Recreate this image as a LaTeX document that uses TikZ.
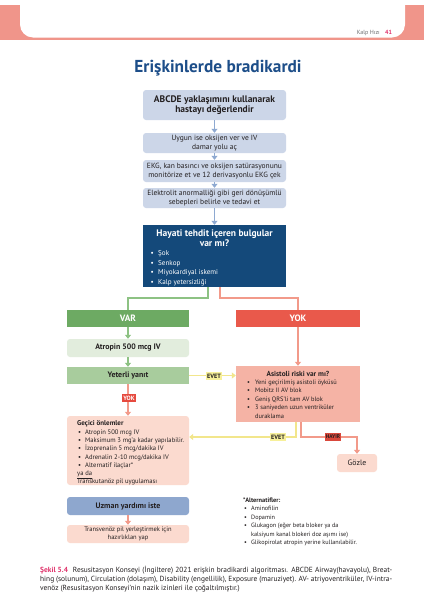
\documentclass[tikz,border=0pt]{standalone}
\usepackage{fontspec}
\setmainfont{PT Sans}
\usetikzlibrary{arrows.meta}
\definecolor{hdr}{HTML}{F0958A}
\definecolor{ttl}{HTML}{1D4E89}
\definecolor{txt}{HTML}{231F20}
\definecolor{lblue}{HTML}{CCD6E8}
\definecolor{ablue}{HTML}{8EA9D1}
\definecolor{dblue}{HTML}{14497A}
\definecolor{gvar}{HTML}{6DAA63}
\definecolor{glight}{HTML}{E2EDDD}
\definecolor{gmid}{HTML}{A8CC9D}
\definecolor{gline}{HTML}{8DC283}
\definecolor{ryok}{HTML}{E9594B}
\definecolor{sline}{HTML}{F29A8A}
\definecolor{sasis}{HTML}{F5B3A5}
\definecolor{spale}{HTML}{FBDACF}
\definecolor{ubox}{HTML}{8EA7CE}
\definecolor{yline}{HTML}{F2E68C}
\definecolor{ylbl}{HTML}{F7F09A}
\definecolor{rlbl}{HTML}{E64A3F}
\definecolor{hlbl}{HTML}{D9483B}
\definecolor{capred}{HTML}{E0336B}
\definecolor{hgray}{HTML}{6D6E70}
\newcommand{\myfs}[2]{\fontsize{#1}{#2}\selectfont}
\tikzset{
  box/.style={draw=none, inner sep=0pt, align=center, text=txt},
  lbbox/.style={box, fill=lblue, rounded corners=3pt, minimum width=143pt},
  lcol/.style={box, minimum width=122pt},
  rcol/.style={box, minimum width=124pt},
  tip/.style={-{Triangle[width=6pt,length=4pt]}},
  barr/.style={tip, draw=ablue, line width=1.8pt},
  garr/.style={tip, draw=gline, line width=1.8pt},
  sarr/.style={tip, draw=sline, line width=1.8pt},
  gln/.style={draw=gline, line width=1.2pt},
  sln/.style={draw=sline, line width=1.2pt},
  sarrthin/.style={tip, draw=sline, line width=1.3pt},
  yarr/.style={tip, draw=yline, line width=1.3pt},
  tline/.style={anchor=base west, inner sep=0pt, text=txt},
  lbl/.style={inner sep=1pt, font=\bfseries\myfs{6.2}{7}, minimum height=7.5pt},
}
\begin{document}
\begin{tikzpicture}[x=1pt,y=-1pt]
\useasboundingbox (0,0) rectangle (424,600);
\fill[white] (0,0) rectangle (424,600);
% header
\fill[hdr] (0,5) rectangle (424,40);
\fill[white, rounded corners=13pt] (20,-20) rectangle (405,37.5);
\node[anchor=base east, inner sep=0pt, text=hgray, font=\myfs{6}{7}] (hk) at (380,34) {Kalp Hızı};
\node[anchor=base west, inner sep=0pt, text=capred, font=\bfseries\myfs{6}{7}] (hn) at (385,34) {41};
% title
\node[anchor=base, inner sep=0pt, text=ttl, font=\bfseries\myfs{17.3}{19}] (title) at (218,72.5) {Erişkinlerde bradikardi};
% top boxes
\node[lbbox, minimum height=30pt, font=\bfseries\myfs{9.5}{10.2}] (b1) at (214.5,105) {ABCDE yaklaşımını kullanarak\\hastayı değerlendir};
\node[lbbox, minimum height=20pt, font=\myfs{7.5}{9}] (b2) at (214.5,143) {Uygun ise oksijen ver ve IV\\damar yolu aç};
\node[lbbox, minimum height=22pt, font=\myfs{7.5}{9}] (b3) at (214.5,171) {EKG, kan basıncı ve oksijen satürasyonunu\\monitörize et ve 12 derivasyonlu EKG çek};
\node[lbbox, minimum height=20pt, font=\myfs{7.5}{9}] (b4) at (214.5,198) {Elektrolit anormalliği gibi geri dönüşümlü\\sebepleri belirle ve tedavi et};
\node[box, fill=dblue, minimum width=143pt, minimum height=62pt] (dk) at (214.5,256) {};
\draw[barr] (b1) -- (b2);
\draw[barr] (b2) -- (b3);
\draw[barr] (b3) -- (b4);
\draw[barr] (b4) -- (dk);
\node[anchor=base, inner sep=0pt, text=white, font=\bfseries\myfs{9.5}{10}] (dkt1) at (214.5,236.5) {Hayati tehdit içeren bulgular};
\node[anchor=base, inner sep=0pt, text=white, font=\bfseries\myfs{9.5}{10}] (dkt2) at (214.5,246.5) {var mı?};
\foreach \t [count=\i] in {Şok, Senkop, Miyokardiyal iskemi, Kalp yetersizliği} {
  \node[tline, text=white, font=\myfs{7.1}{8}] (dkb\i) at (150.5,{255.5+9.5*(\i-1)}) {•};
  \node[tline, text=white, font=\myfs{7.1}{8}] (dki\i) at (158,{255.5+9.5*(\i-1)}) {\t};
}
% VAR / YOK
\node[lcol, fill=gvar, minimum height=17pt, text=white, font=\bfseries\myfs{9.2}{10}] (var) at (128,318.5) {VAR};
\node[rcol, fill=ryok, minimum height=17pt, text=white, font=\bfseries\myfs{9.2}{10}] (yok) at (298,318.5) {YOK};
\coordinate (d1) at (208,298);
\coordinate (d2) at (220,298);
\draw[gln] (dk.south -| d1) -- (d1) -| (var.north);
\draw[sln] (dk.south -| d2) -- (d2) -| (yok.north);
% left column
\node[lcol, fill=glight, rounded corners=3pt, minimum height=18pt, font=\bfseries\myfs{7.9}{9}] (atr) at (128,348) {Atropin 500 mcg IV};
\node[lcol, fill=gmid, minimum height=17pt, font=\bfseries\myfs{7.9}{9}] (yet) at (128,375.5) {Yeterli yanıt};
\draw[garr] (var) -- (atr);
\draw[garr] (atr) -- (yet);
% Asistoli
\node[rcol, fill=sasis, minimum height=56pt] (as) at (298,394) {};
\draw[sarr] (yok) -- (as);
\node[anchor=base, inner sep=0pt, text=txt, font=\bfseries\myfs{7.3}{8}] (ast) at (298,376.5) {Asistoli riski var mı?};
\foreach \t [count=\i] in {Yeni geçirilmiş asistoli öyküsü, Mobitz II AV blok, Geniş QRS'li tam AV blok, 3 saniyeden uzun ventriküler} {
  \node[tline, font=\myfs{6.4}{8}] (asb\i) at (247,{384.5+8.4*(\i-1)}) {•};
  \node[tline, font=\myfs{6.4}{8}] (asi\i) at (255,{384.5+8.4*(\i-1)}) {\t};
}
\node[tline, font=\myfs{6.4}{8}] (asi5) at (255,418.2) {duraklama};
% EVET 1
\draw[yarr] (yet.east) -- (yet.east -| as.west);
\node[lbl, fill=ylbl, text=txt] (ev1) at (214,376) {EVET};
% Gecici
\node[lcol, fill=spale, rounded corners=3pt, minimum height=69pt] (gec) at (128,450.5) {};
\draw[sarrthin] (yet) -- (gec);
\node[lbl, fill=rlbl, text=white] (yk1) at (129,398) {YOK};
\node[tline, font=\bfseries\myfs{7}{8}] (gect) at (77,425.5) {Geçici önlemler};
\foreach \t [count=\i] in {Atropin 500 mcg IV, Maksimum 3 mg'a kadar yapılabilir., İzoprenalin 5 mcg/dakika IV, Adrenalin 2-10 mcg/dakika IV, Alternatif ilaçlar*} {
  \node[tline, font=\myfs{6.6}{8}] (gb\i) at (78,{434+8.35*(\i-1)}) {•};
  \node[tline, font=\myfs{6.6}{8}] (gi\i) at (85,{434+8.35*(\i-1)}) {\t};
}
\node[tline, font=\myfs{6.6}{8}] (gya) at (77,475.5) {\underline{ya da}};
\node[tline, font=\myfs{6.6}{8}] (gtr) at (77,483.5) {Transkutanöz pil uygulaması};
% EVET 2 and HAYIR
\coordinate (c1) at (296,437);
\coordinate (c2) at (301,437);
\node[box, fill=spale, rounded corners=3pt, minimum width=40pt, minimum height=18pt, font=\myfs{7.8}{9}] (goz) at (357,463) {Gözle};
\draw[yarr] (as.south -| c1) -- (c1) -- (c1 -| gec.east);
\draw[sarrthin] (as.south -| c2) -- (c2) -| (goz.north);
\node[lbl, fill=ylbl, text=txt] (ev2) at (278,437) {EVET};
\node[lbl, fill=hlbl, text=txt, font=\bfseries\myfs{5.4}{6}] (hy) at (333,437) {HAYIR};
% Uzman
\node[lcol, fill=ubox, rounded corners=3pt, minimum height=18pt, font=\bfseries\myfs{7.9}{9}] (uz) at (128,506) {Uzman yardımı iste};
\node[lcol, fill=spale, rounded corners=3pt, minimum height=18pt, font=\myfs{6.5}{8}] (tv) at (128,534) {Transvenöz pil yerleştirmek için\\hazırlıklan yap};
\draw[sarr] (uz) -- (tv);
% Alternatifler
\node[tline, font=\bfseries\myfs{6.4}{8}] (alt) at (243,502) {*Alternatifler:};
\foreach \t [count=\i] in {Aminofilin, Dopamin, Glukagon (eğer beta bloker ya da} {
  \node[tline, font=\myfs{6.2}{8}] (ab\i) at (244,{510.5+8.5*(\i-1)}) {•};
  \node[tline, font=\myfs{6.2}{8}] (ai\i) at (251,{510.5+8.5*(\i-1)}) {\t};
}
\node[tline, font=\myfs{6.2}{8}] (ai4) at (251,536) {kalsiyum kanal blokeri doz aşımı ise)};
\node[tline, font=\myfs{6.2}{8}] (ab5) at (244,544.5) {•};
\node[tline, font=\myfs{6.2}{8}] (ai5) at (251,544.5) {Glikopirolat atropin yerine kullanılabilir.};
% caption
\node[tline, font=\myfs{7.4}{9}] (cap1) at (40,572.5) {\makebox[352pt][s]{\textcolor{capred}{\bfseries Şekil 5.4}\hspace{5pt}Resusitasyon Konseyi (İngiltere) 2021 erişkin bradikardi algoritması. ABCDE Airway(havayolu), Breat-}};
\node[tline, font=\myfs{7.4}{9}] (cap2) at (40,581.5) {\makebox[352pt][s]{hing (solunum), Circulation (dolaşım), Disability (engellilik), Exposure (maruziyet). AV- atriyoventriküler, IV-intra-}};
\node[tline, font=\myfs{7.4}{9}] (cap3) at (40,590.5) {venöz (Resusitasyon Konseyi'nin nazik izinleri ile çoğaltılmıştır.)};
\end{tikzpicture}
\end{document}
